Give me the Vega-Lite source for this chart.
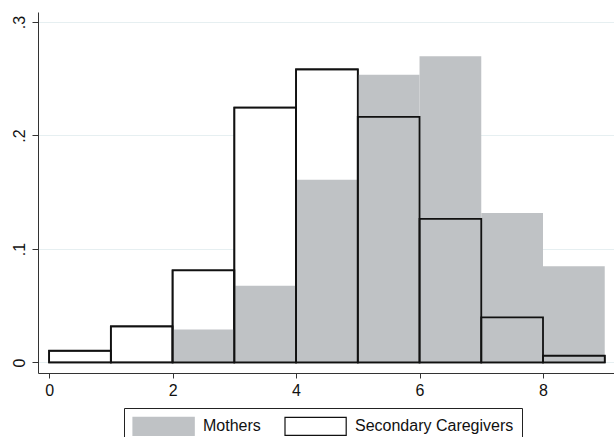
{
  "$schema": "https://vega.github.io/schema/vega-lite/v6.json",
  "autosize": "none",
  "width": 576,
  "height": 361,
  "padding": {"left": 38, "top": 12, "right": 0, "bottom": 64},
  "background": "white",
  "config": {
    "view": {"stroke": null},
    "font": "Liberation Sans",
    "axis": {"labelFont": "Liberation Sans", "labelFontSize": 16, "labelColor": "#111", "domainColor": "#333", "tickColor": "#333", "domainWidth": 1, "tickWidth": 1, "title": null}
  },
  "datasets": {
    "hist": [
      {"group": "Mothers", "start": 2, "end": 3, "density": 0.029},
      {"group": "Mothers", "start": 3, "end": 4, "density": 0.0676},
      {"group": "Mothers", "start": 4, "end": 5, "density": 0.161},
      {"group": "Mothers", "start": 5, "end": 6, "density": 0.2534},
      {"group": "Mothers", "start": 6, "end": 7, "density": 0.2698},
      {"group": "Mothers", "start": 7, "end": 8, "density": 0.1317},
      {"group": "Mothers", "start": 8, "end": 9, "density": 0.0847},
      {"group": "Secondary Caregivers", "start": 0, "end": 1, "density": 0.0103},
      {"group": "Secondary Caregivers", "start": 1, "end": 2, "density": 0.0318},
      {"group": "Secondary Caregivers", "start": 2, "end": 3, "density": 0.0812},
      {"group": "Secondary Caregivers", "start": 3, "end": 4, "density": 0.2246},
      {"group": "Secondary Caregivers", "start": 4, "end": 5, "density": 0.2582},
      {"group": "Secondary Caregivers", "start": 5, "end": 6, "density": 0.2164},
      {"group": "Secondary Caregivers", "start": 6, "end": 7, "density": 0.1265},
      {"group": "Secondary Caregivers", "start": 7, "end": 8, "density": 0.0397},
      {"group": "Secondary Caregivers", "start": 8, "end": 9, "density": 0.0059}
    ]
  },
  "data": {"name": "hist"},
  "encoding": {
    "x": {
      "field": "start", "type": "quantitative",
      "scale": {"domain": [-0.18, 9.15], "nice": false, "zero": false},
      "axis": {"values": [0, 2, 4, 6, 8], "grid": false, "tickSize": 5, "labelPadding": 4, "format": "d"}
    },
    "x2": {"field": "end"},
    "y": {
      "field": "density", "type": "quantitative",
      "scale": {"domain": [-0.0093, 0.3088], "nice": false, "zero": false},
      "axis": {
        "values": [0, 0.1, 0.2, 0.3], "grid": true, "gridColor": "#e6eff1", "gridWidth": 1,
        "tickSize": 6, "labelAngle": 270, "labelAlign": "center", "labelBaseline": "bottom", "labelPadding": 5,
        "labelExpr": "datum.value == 0 ? '0' : '.' + format(datum.value * 10, 'd')"
      }
    },
    "y2": {"datum": 0}
  },
  "layer": [
    {
      "transform": [{"filter": "datum.group == 'Secondary Caregivers'"}],
      "mark": {"type": "bar", "strokeWidth": 1.6},
      "encoding": {
        "fill": {
          "field": "group", "type": "nominal",
          "scale": {"domain": ["Mothers", "Secondary Caregivers"], "range": ["#bfc2c5", "white"]},
          "legend": {
            "title": null, "orient": "none", "legendX": 86, "legendY": 396, "direction": "horizontal", "columns": 2,
            "strokeColor": "#222", "padding": 8, "fillColor": "white",
            "symbolType": "M-1,-1H5.8V1H-1Z", "symbolSize": 324, "symbolStrokeWidth": 1.2,
            "labelFont": "Liberation Sans", "labelFontSize": 16, "labelColor": "#111", "labelOffset": 51, "columnPadding": 21
          }
        },
        "stroke": {
          "field": "group", "type": "nominal",
          "scale": {"domain": ["Mothers", "Secondary Caregivers"], "range": ["#bfc2c5", "#111"]}
        }
      }
    },
    {
      "transform": [{"filter": "datum.group == 'Mothers'"}],
      "mark": {"type": "bar", "strokeWidth": 0},
      "encoding": {
        "fill": {"field": "group", "type": "nominal"},
        "stroke": {"field": "group", "type": "nominal"}
      }
    },
    {
      "transform": [{"filter": "datum.group == 'Secondary Caregivers'"}],
      "mark": {"type": "bar", "fill": "transparent", "stroke": "#111", "strokeWidth": 1.8}
    },
    {
      "data": {"values": [{"line": 6}]},
      "mark": {"type": "rule", "color": "#000", "strokeWidth": 3.5},
      "encoding": {
        "x": {"field": "line", "type": "quantitative"},
        "x2": null,
        "y": {"datum": 0},
        "y2": {"datum": 0.3}
      }
    }
  ]
}
